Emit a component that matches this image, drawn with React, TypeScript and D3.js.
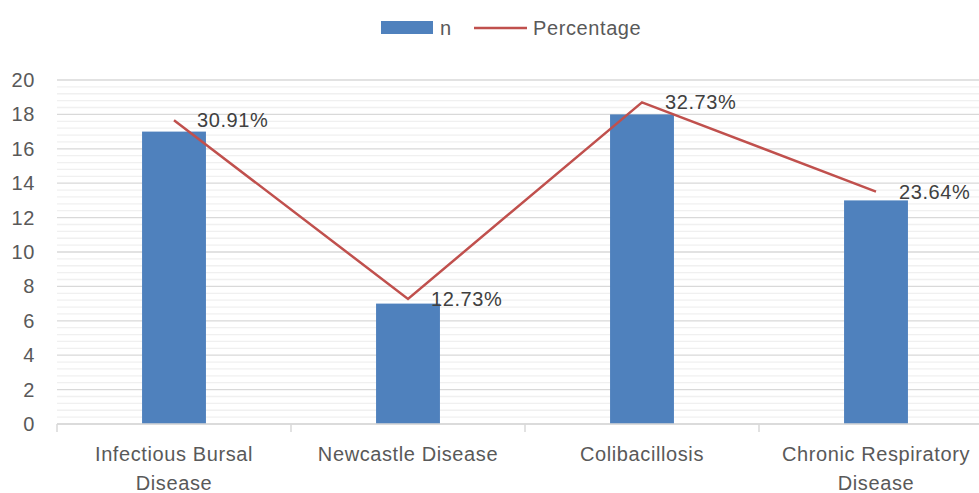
import React from 'react';
import * as d3 from 'd3';

// chart data
const categories = ['Infectious Bursal Disease', 'Newcastle Disease', 'Colibacillosis', 'Chronic Respiratory Disease'];
const categoryLines = [['Infectious Bursal', 'Disease'], ['Newcastle Disease'], ['Colibacillosis'], ['Chronic Respiratory', 'Disease']];
const counts = [17, 7, 18, 13];
const percentages = [30.91, 12.73, 32.73, 23.64];
const yTicks = [0, 2, 4, 6, 8, 10, 12, 14, 16, 18, 20];

const W = 979;
const H = 493;
const FONT = '"Liberation Sans", Arial, sans-serif';
const TEXT = '#595959';
const BAR = '#4f81bd';
const LINE = '#c0504d';
const LS = 0.6;

const App = () => {
  const margin = { left: 57, right: -14, top: 80, bottom: 69 };

  // x: one band per category (plot runs a bit past the right edge of the picture)
  const x = d3
    .scaleBand<string>()
    .domain(categories)
    .range([margin.left, W - margin.right])
    .padding(0);

  const y = d3.scaleLinear().domain([0, 20]).range([H - margin.bottom, margin.top]);
  // secondary axis for the percentage line (hidden)
  const yPct = d3.scaleLinear().domain([0, 35]).range([H - margin.bottom, margin.top]);

  const barWidth = x.bandwidth() * 0.273;
  const cx = (c: string) => (x(c) ?? 0) + x.bandwidth() / 2;

  const minorTicks = d3.range(0, 20.001, 0.4).filter((v) => Math.abs(v / 2 - Math.round(v / 2)) > 0.01);

  const line = d3
    .line<number>()
    .x((_, i) => cx(categories[i]))
    .y((d) => yPct(d));

  const boundaries = d3.range(categories.length + 1).map((i) => margin.left + i * x.bandwidth());

  return (
    <svg
      width={W}
      height={H}
      style={{ position: 'absolute', left: 0, top: 0, background: '#fff' }}
      fontFamily={FONT}
    >
      {/* minor gridlines */}
      {minorTicks.map((t) => (
        <line key={'m' + t} x1={margin.left} x2={W} y1={y(t)} y2={y(t)} stroke="#f0f0f0" strokeWidth={1.3} />
      ))}
      {/* major gridlines */}
      {yTicks.map((t) => (
        <line key={'g' + t} x1={margin.left} x2={W} y1={y(t)} y2={y(t)} stroke="#d9d9d9" strokeWidth={1.3} />
      ))}

      {/* y tick labels */}
      {yTicks.map((t) => (
        <text key={'yt' + t} x={35} y={y(t)} dy="0.35em" textAnchor="end" fontSize={20} fill={TEXT} letterSpacing={LS}>
          {t}
        </text>
      ))}

      {/* bars */}
      {categories.map((c, i) => (
        <rect
          key={c}
          x={cx(c) - barWidth / 2}
          y={y(counts[i])}
          width={barWidth}
          height={y(0) - y(counts[i])}
          fill={BAR}
        />
      ))}

      {/* x axis */}
      <line x1={margin.left} x2={W} y1={y(0)} y2={y(0)} stroke="#d9d9d9" strokeWidth={1.5} />
      {boundaries.map((b) => (
        <line key={'tk' + b} x1={b} x2={b} y1={y(0)} y2={y(0) + 8} stroke="#d9d9d9" strokeWidth={1.5} />
      ))}

      {/* category labels */}
      {categories.map((c, i) =>
        categoryLines[i].map((l, j) => (
          <text
            key={c + j}
            x={cx(c)}
            y={461 + j * 29}
            textAnchor="middle"
            fontSize={20}
            fill={TEXT}
            letterSpacing={LS}
          >
            {l}
          </text>
        ))
      )}

      {/* percentage line */}
      <path d={line(percentages) ?? ''} fill="none" stroke={LINE} strokeWidth={2.5} />

      {/* data labels */}
      {categories.map((c, i) => (
        <text
          key={'lbl' + c}
          x={cx(c) + 23}
          y={yPct(percentages[i])}
          dy="0.35em"
          fontSize={20}
          fill="#404040"
          letterSpacing={LS}
        >
          {percentages[i].toFixed(2)}%
        </text>
      ))}

      {/* legend */}
      <rect x={381} y={21} width={52} height={13} fill={BAR} />
      <text x={440} y={28} dy="0.35em" fontSize={20} fill={TEXT} letterSpacing={LS}>
        n
      </text>
      <line x1={474} x2={527} y1={28} y2={28} stroke={LINE} strokeWidth={2.5} />
      <text x={533} y={28} dy="0.35em" fontSize={20} fill={TEXT} letterSpacing={LS}>
        Percentage
      </text>
    </svg>
  );
};

export default App;
